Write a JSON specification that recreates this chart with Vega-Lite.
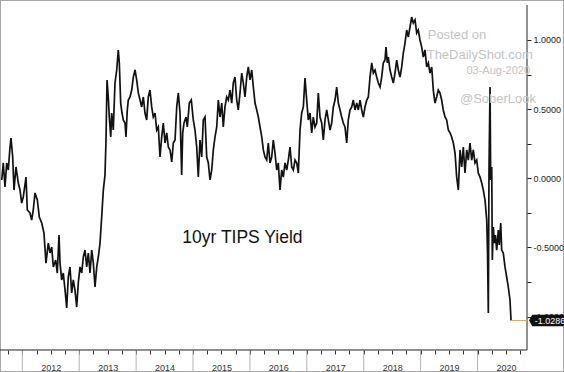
{
  "$schema": "https://vega.github.io/schema/vega-lite/v6.json",
  "width": 564,
  "height": 372,
  "autosize": "none",
  "padding": 0,
  "background": "white",
  "config": {"view": {"stroke": "#a8a8a8", "strokeWidth": 2}},
  "datasets": {
    "series": [
      {"year": 2011.638, "value": -0.012}, {"year": 2011.666, "value": 0.111}, {"year": 2011.696, "value": -0.063}, {"year": 2011.726, "value": 0.111}, {"year": 2011.754, "value": 0.060}, {"year": 2011.780, "value": 0.205}, {"year": 2011.801, "value": 0.291}, {"year": 2011.831, "value": 0.154}, {"year": 2011.854, "value": -0.085}, {"year": 2011.889, "value": 0.082},
      {"year": 2011.930, "value": -0.034}, {"year": 2011.960, "value": -0.085}, {"year": 2011.989, "value": -0.179}, {"year": 2012.017, "value": -0.135}, {"year": 2012.065, "value": 0.009}, {"year": 2012.088, "value": -0.229}, {"year": 2012.135, "value": -0.251}, {"year": 2012.165, "value": -0.302}, {"year": 2012.193, "value": -0.229}, {"year": 2012.223, "value": -0.106},
      {"year": 2012.264, "value": -0.157}, {"year": 2012.299, "value": -0.280}, {"year": 2012.341, "value": -0.323}, {"year": 2012.381, "value": -0.396}, {"year": 2012.416, "value": -0.613}, {"year": 2012.457, "value": -0.468}, {"year": 2012.487, "value": -0.540}, {"year": 2012.517, "value": -0.497}, {"year": 2012.545, "value": -0.641}, {"year": 2012.587, "value": -0.591},
      {"year": 2012.615, "value": -0.685}, {"year": 2012.645, "value": -0.410}, {"year": 2012.663, "value": -0.613}, {"year": 2012.692, "value": -0.735}, {"year": 2012.720, "value": -0.685}, {"year": 2012.756, "value": -0.829}, {"year": 2012.780, "value": -0.938}, {"year": 2012.808, "value": -0.714}, {"year": 2012.838, "value": -0.641}, {"year": 2012.868, "value": -0.829},
      {"year": 2012.896, "value": -0.735}, {"year": 2012.926, "value": -0.808}, {"year": 2012.956, "value": -0.931}, {"year": 2012.984, "value": -0.757}, {"year": 2013.014, "value": -0.641}, {"year": 2013.044, "value": -0.685}, {"year": 2013.072, "value": -0.569}, {"year": 2013.102, "value": -0.519}, {"year": 2013.132, "value": -0.641}, {"year": 2013.160, "value": -0.540},
      {"year": 2013.190, "value": -0.685}, {"year": 2013.220, "value": -0.519}, {"year": 2013.248, "value": -0.613}, {"year": 2013.278, "value": -0.786}, {"year": 2013.308, "value": -0.641}, {"year": 2013.336, "value": -0.569}, {"year": 2013.366, "value": -0.468}, {"year": 2013.395, "value": -0.280}, {"year": 2013.424, "value": -0.085}, {"year": 2013.453, "value": 0.024},
      {"year": 2013.471, "value": 0.277}, {"year": 2013.489, "value": 0.711}, {"year": 2013.511, "value": 0.588}, {"year": 2013.529, "value": 0.443}, {"year": 2013.554, "value": 0.299}, {"year": 2013.571, "value": 0.472}, {"year": 2013.599, "value": 0.349}, {"year": 2013.629, "value": 0.689}, {"year": 2013.659, "value": 0.783}, {"year": 2013.687, "value": 0.928},
      {"year": 2013.705, "value": 0.834}, {"year": 2013.729, "value": 0.544}, {"year": 2013.752, "value": 0.472}, {"year": 2013.775, "value": 0.422}, {"year": 2013.805, "value": 0.400}, {"year": 2013.822, "value": 0.299}, {"year": 2013.845, "value": 0.494}, {"year": 2013.863, "value": 0.566}, {"year": 2013.893, "value": 0.588}, {"year": 2013.923, "value": 0.638},
      {"year": 2013.951, "value": 0.732}, {"year": 2013.981, "value": 0.783}, {"year": 2014.010, "value": 0.711}, {"year": 2014.039, "value": 0.617}, {"year": 2014.069, "value": 0.566}, {"year": 2014.098, "value": 0.516}, {"year": 2014.127, "value": 0.588}, {"year": 2014.156, "value": 0.472}, {"year": 2014.186, "value": 0.422}, {"year": 2014.214, "value": 0.588},
      {"year": 2014.244, "value": 0.638}, {"year": 2014.274, "value": 0.516}, {"year": 2014.302, "value": 0.443}, {"year": 2014.332, "value": 0.472}, {"year": 2014.362, "value": 0.349}, {"year": 2014.390, "value": 0.371}, {"year": 2014.420, "value": 0.154}, {"year": 2014.450, "value": 0.299}, {"year": 2014.478, "value": 0.400}, {"year": 2014.508, "value": 0.255},
      {"year": 2014.538, "value": 0.328}, {"year": 2014.566, "value": 0.226}, {"year": 2014.596, "value": 0.205}, {"year": 2014.626, "value": 0.118}, {"year": 2014.654, "value": 0.255}, {"year": 2014.684, "value": 0.277}, {"year": 2014.714, "value": 0.516}, {"year": 2014.742, "value": 0.617}, {"year": 2014.772, "value": 0.472}, {"year": 2014.801, "value": 0.024},
      {"year": 2014.819, "value": 0.328}, {"year": 2014.842, "value": 0.400}, {"year": 2014.877, "value": 0.443}, {"year": 2014.900, "value": 0.371}, {"year": 2014.935, "value": 0.544}, {"year": 2014.970, "value": 0.566}, {"year": 2015.005, "value": 0.422}, {"year": 2015.035, "value": 0.349}, {"year": 2015.065, "value": 0.226}, {"year": 2015.093, "value": 0.009},
      {"year": 2015.123, "value": 0.277}, {"year": 2015.153, "value": 0.154}, {"year": 2015.181, "value": 0.422}, {"year": 2015.211, "value": 0.443}, {"year": 2015.241, "value": 0.154}, {"year": 2015.269, "value": 0.111}, {"year": 2015.299, "value": -0.012}, {"year": 2015.329, "value": 0.060}, {"year": 2015.357, "value": 0.205}, {"year": 2015.387, "value": 0.299},
      {"year": 2015.417, "value": 0.371}, {"year": 2015.445, "value": 0.566}, {"year": 2015.475, "value": 0.443}, {"year": 2015.505, "value": 0.544}, {"year": 2015.532, "value": 0.371}, {"year": 2015.562, "value": 0.516}, {"year": 2015.592, "value": 0.588}, {"year": 2015.620, "value": 0.566}, {"year": 2015.650, "value": 0.638}, {"year": 2015.680, "value": 0.544},
      {"year": 2015.708, "value": 0.689}, {"year": 2015.738, "value": 0.732}, {"year": 2015.768, "value": 0.566}, {"year": 2015.796, "value": 0.494}, {"year": 2015.826, "value": 0.617}, {"year": 2015.856, "value": 0.761}, {"year": 2015.884, "value": 0.689}, {"year": 2015.914, "value": 0.588}, {"year": 2015.944, "value": 0.732}, {"year": 2015.972, "value": 0.805},
      {"year": 2016.002, "value": 0.711}, {"year": 2016.032, "value": 0.783}, {"year": 2016.060, "value": 0.660}, {"year": 2016.090, "value": 0.544}, {"year": 2016.120, "value": 0.494}, {"year": 2016.148, "value": 0.443}, {"year": 2016.178, "value": 0.371}, {"year": 2016.208, "value": 0.299}, {"year": 2016.236, "value": 0.205}, {"year": 2016.265, "value": 0.154},
      {"year": 2016.295, "value": 0.132}, {"year": 2016.323, "value": 0.255}, {"year": 2016.353, "value": 0.111}, {"year": 2016.383, "value": 0.154}, {"year": 2016.411, "value": 0.277}, {"year": 2016.441, "value": 0.183}, {"year": 2016.471, "value": 0.060}, {"year": 2016.499, "value": 0.111}, {"year": 2016.529, "value": -0.085}, {"year": 2016.559, "value": 0.060},
      {"year": 2016.587, "value": 0.009}, {"year": 2016.617, "value": 0.111}, {"year": 2016.647, "value": 0.060}, {"year": 2016.675, "value": 0.132}, {"year": 2016.705, "value": 0.226}, {"year": 2016.735, "value": 0.082}, {"year": 2016.763, "value": 0.060}, {"year": 2016.793, "value": 0.132}, {"year": 2016.823, "value": 0.111}, {"year": 2016.851, "value": 0.038},
      {"year": 2016.881, "value": 0.349}, {"year": 2016.910, "value": 0.472}, {"year": 2016.939, "value": 0.516}, {"year": 2016.968, "value": 0.725}, {"year": 2016.998, "value": 0.566}, {"year": 2017.026, "value": 0.422}, {"year": 2017.056, "value": 0.472}, {"year": 2017.086, "value": 0.328}, {"year": 2017.114, "value": 0.443}, {"year": 2017.144, "value": 0.371},
      {"year": 2017.174, "value": 0.400}, {"year": 2017.202, "value": 0.617}, {"year": 2017.232, "value": 0.443}, {"year": 2017.262, "value": 0.400}, {"year": 2017.290, "value": 0.277}, {"year": 2017.320, "value": 0.422}, {"year": 2017.350, "value": 0.494}, {"year": 2017.378, "value": 0.422}, {"year": 2017.408, "value": 0.349}, {"year": 2017.438, "value": 0.400},
      {"year": 2017.466, "value": 0.516}, {"year": 2017.496, "value": 0.566}, {"year": 2017.525, "value": 0.660}, {"year": 2017.554, "value": 0.544}, {"year": 2017.584, "value": 0.494}, {"year": 2017.613, "value": 0.443}, {"year": 2017.641, "value": 0.400}, {"year": 2017.671, "value": 0.371}, {"year": 2017.701, "value": 0.255}, {"year": 2017.729, "value": 0.422},
      {"year": 2017.759, "value": 0.494}, {"year": 2017.789, "value": 0.516}, {"year": 2017.817, "value": 0.566}, {"year": 2017.847, "value": 0.494}, {"year": 2017.877, "value": 0.544}, {"year": 2017.905, "value": 0.494}, {"year": 2017.935, "value": 0.566}, {"year": 2017.965, "value": 0.494}, {"year": 2017.993, "value": 0.443}, {"year": 2018.023, "value": 0.516},
      {"year": 2018.053, "value": 0.566}, {"year": 2018.081, "value": 0.588}, {"year": 2018.111, "value": 0.732}, {"year": 2018.141, "value": 0.834}, {"year": 2018.169, "value": 0.761}, {"year": 2018.199, "value": 0.783}, {"year": 2018.228, "value": 0.732}, {"year": 2018.257, "value": 0.689}, {"year": 2018.287, "value": 0.660}, {"year": 2018.316, "value": 0.732},
      {"year": 2018.344, "value": 0.834}, {"year": 2018.374, "value": 0.855}, {"year": 2018.392, "value": 0.949}, {"year": 2018.415, "value": 0.834}, {"year": 2018.432, "value": 0.877}, {"year": 2018.462, "value": 0.783}, {"year": 2018.492, "value": 0.732}, {"year": 2018.520, "value": 0.689}, {"year": 2018.550, "value": 0.761}, {"year": 2018.580, "value": 0.855},
      {"year": 2018.608, "value": 0.783}, {"year": 2018.638, "value": 0.732}, {"year": 2018.668, "value": 0.805}, {"year": 2018.696, "value": 0.906}, {"year": 2018.726, "value": 0.978}, {"year": 2018.755, "value": 1.072}, {"year": 2018.784, "value": 1.022}, {"year": 2018.814, "value": 1.094}, {"year": 2018.843, "value": 1.166}, {"year": 2018.872, "value": 1.123},
      {"year": 2018.902, "value": 1.145}, {"year": 2018.931, "value": 1.051}, {"year": 2018.959, "value": 1.072}, {"year": 2018.989, "value": 1.000}, {"year": 2019.019, "value": 0.949}, {"year": 2019.047, "value": 0.877}, {"year": 2019.077, "value": 0.928}, {"year": 2019.107, "value": 0.805}, {"year": 2019.135, "value": 0.834}, {"year": 2019.165, "value": 0.761},
      {"year": 2019.195, "value": 0.805}, {"year": 2019.223, "value": 0.638}, {"year": 2019.253, "value": 0.544}, {"year": 2019.282, "value": 0.588}, {"year": 2019.311, "value": 0.638}, {"year": 2019.341, "value": 0.617}, {"year": 2019.370, "value": 0.566}, {"year": 2019.398, "value": 0.494}, {"year": 2019.429, "value": 0.443}, {"year": 2019.458, "value": 0.422},
      {"year": 2019.487, "value": 0.349}, {"year": 2019.517, "value": 0.328}, {"year": 2019.546, "value": 0.299}, {"year": 2019.575, "value": 0.255}, {"year": 2019.605, "value": 0.183}, {"year": 2019.634, "value": 0.009}, {"year": 2019.663, "value": -0.085}, {"year": 2019.693, "value": 0.205}, {"year": 2019.722, "value": 0.082}, {"year": 2019.750, "value": 0.226},
      {"year": 2019.780, "value": 0.038}, {"year": 2019.810, "value": 0.205}, {"year": 2019.838, "value": 0.132}, {"year": 2019.868, "value": 0.255}, {"year": 2019.898, "value": 0.132}, {"year": 2019.926, "value": 0.205}, {"year": 2019.956, "value": 0.111}, {"year": 2019.986, "value": 0.132}, {"year": 2020.014, "value": 0.038}, {"year": 2020.044, "value": 0.009},
      {"year": 2020.074, "value": -0.034}, {"year": 2020.102, "value": -0.085}, {"year": 2020.132, "value": -0.157}, {"year": 2020.162, "value": -0.302}, {"year": 2020.176, "value": -0.540}, {"year": 2020.190, "value": -0.974}, {"year": 2020.202, "value": 0.060}, {"year": 2020.220, "value": 0.660}, {"year": 2020.232, "value": -0.012}, {"year": 2020.250, "value": 0.082},
      {"year": 2020.260, "value": -0.591}, {"year": 2020.278, "value": -0.352}, {"year": 2020.296, "value": -0.468}, {"year": 2020.315, "value": -0.410}, {"year": 2020.337, "value": -0.519}, {"year": 2020.366, "value": -0.374}, {"year": 2020.383, "value": -0.482}, {"year": 2020.408, "value": -0.323}, {"year": 2020.425, "value": -0.519}, {"year": 2020.453, "value": -0.540},
      {"year": 2020.483, "value": -0.641}, {"year": 2020.513, "value": -0.714}, {"year": 2020.541, "value": -0.786}, {"year": 2020.571, "value": -0.880}, {"year": 2020.589, "value": -1.0286}
    ],
    "frame": [
      {"year": 2011.608, "year2": 2020.870, "value": -1.2415, "value2": -1.2415},
      {"year": 2020.870, "year2": 2020.870, "value": 1.253, "value2": -1.2415}
    ],
    "yearBounds": [
      {"year": 2012, "value": -1.2415, "value2": -1.4006},
      {"year": 2013, "value": -1.2415, "value2": -1.4006},
      {"year": 2014, "value": -1.2415, "value2": -1.4006},
      {"year": 2015, "value": -1.2415, "value2": -1.4006},
      {"year": 2016, "value": -1.2415, "value2": -1.4006},
      {"year": 2017, "value": -1.2415, "value2": -1.4006},
      {"year": 2018, "value": -1.2415, "value2": -1.4006},
      {"year": 2019, "value": -1.2415, "value2": -1.4006},
      {"year": 2020, "value": -1.2415, "value2": -1.4006}
    ],
    "last": [{"year": 2020.589, "year2": 2020.870, "value": -1.0286}],
    "tag": [{"year": 2021.213, "value": -1.0286}],
    "tagText": [{"year": 2021.274, "value": -1.0286, "label": "-1.0286"}],
    "watermark": [
      {"year": 2019.125, "value": 1.007, "label": "Posted on"},
      {"year": 2019.107, "value": 0.865, "label": "TheDailyShot.com"},
      {"year": 2019.692, "value": 0.547, "label": "@SoberLook"}
    ],
    "dateMark": [{"year": 2020.923, "value": 0.754, "label": "03-Aug-2020"}],
    "title": [{"year": 2014.812, "value": -0.468, "label": "10yr TIPS Yield"}]
  },
  "encoding": {
    "x": {
      "field": "year",
      "type": "quantitative",
      "scale": {"domain": [2011.608, 2021.52], "nice": false, "zero": false},
      "axis": {
        "orient": "bottom",
        "offset": -22,
        "title": null,
        "grid": false,
        "domain": false,
        "values": [2011.75, 2012, 2012.25, 2012.5, 2012.75, 2013, 2013.25, 2013.5, 2013.75, 2014, 2014.25, 2014.5, 2014.75, 2015, 2015.25, 2015.5, 2015.75, 2016, 2016.25, 2016.5, 2016.75, 2017, 2017.25, 2017.5, 2017.75, 2018, 2018.25, 2018.5, 2018.75, 2019, 2019.25, 2019.5, 2019.75, 2020, 2020.25, 2020.5, 2020.75],
        "tickSize": 4,
        "tickColor": "#333333",
        "labelExpr": "datum.value % 1 == 0.5 ? '' + floor(datum.value) : ''",
        "labelFont": "Liberation Sans, Arial, sans-serif",
        "labelFontSize": 9,
        "labelColor": "#333333",
        "labelPadding": 13,
        "labelBaseline": "middle",
        "labelFlush": false,
        "labelOverlap": false,
        "labelBound": false
      }
    },
    "y": {
      "field": "value",
      "type": "quantitative",
      "scale": {"domain": [-1.4006, 1.2892], "nice": false, "zero": false},
      "axis": {
        "orient": "right",
        "offset": -37,
        "title": null,
        "grid": false,
        "domain": false,
        "values": [-1, -0.75, -0.5, -0.25, 0, 0.25, 0.5, 0.75, 1],
        "tickSize": 4,
        "tickColor": "#222222",
        "labelExpr": "datum.value % 0.5 == 0 ? (datum.value < 0 ? '-' : '') + format(abs(datum.value), '.4f') : ''",
        "labelFont": "Liberation Sans, Arial, sans-serif",
        "labelFontSize": 9,
        "labelColor": "#222222",
        "labelPadding": 2,
        "labelBaseline": "middle",
        "labelFlush": false,
        "labelOverlap": false,
        "labelBound": false
      }
    }
  },
  "layer": [
    {
      "data": {"name": "yearBounds"},
      "mark": {"type": "rule", "color": "#b4b4b4", "strokeWidth": 1},
      "encoding": {"y2": {"field": "value2"}}
    },
    {
      "data": {"name": "frame"},
      "mark": {"type": "rule", "color": "#222222", "strokeWidth": 1},
      "encoding": {"x2": {"field": "year2"}, "y2": {"field": "value2"}}
    },
    {
      "data": {"name": "series"},
      "mark": {"type": "line", "color": "#111111", "strokeWidth": 1.7, "strokeJoin": "miter"},
      "encoding": {}
    },
    {
      "data": {"name": "last"},
      "mark": {"type": "rule", "color": "#f2a33a", "strokeWidth": 1},
      "encoding": {"x2": {"field": "year2"}}
    },
    {
      "data": {"name": "tag"},
      "mark": {"type": "point", "filled": true, "opacity": 1, "color": "#111111", "size": 1225, "shape": "M-1,0 L-0.82,-0.33 L1,-0.33 L1,0.33 L-0.82,0.33 Z"},
      "encoding": {}
    },
    {
      "data": {"name": "tagText"},
      "mark": {"type": "text", "color": "white", "font": "Liberation Sans, Arial, sans-serif", "fontSize": 9, "align": "center", "baseline": "middle"},
      "encoding": {"text": {"field": "label"}}
    },
    {
      "data": {"name": "watermark"},
      "mark": {"type": "text", "color": "#c4c4c4", "font": "Liberation Sans, Arial, sans-serif", "fontSize": 13, "align": "left", "baseline": "alphabetic"},
      "encoding": {"text": {"field": "label"}}
    },
    {
      "data": {"name": "dateMark"},
      "mark": {"type": "text", "color": "#c4c4c4", "font": "Liberation Sans, Arial, sans-serif", "fontSize": 11, "align": "right", "baseline": "alphabetic"},
      "encoding": {"text": {"field": "label"}}
    },
    {
      "data": {"name": "title"},
      "mark": {"type": "text", "color": "#111111", "font": "Liberation Sans, Arial, sans-serif", "fontSize": 17.5, "align": "left", "baseline": "alphabetic"},
      "encoding": {"text": {"field": "label"}}
    }
  ]
}
